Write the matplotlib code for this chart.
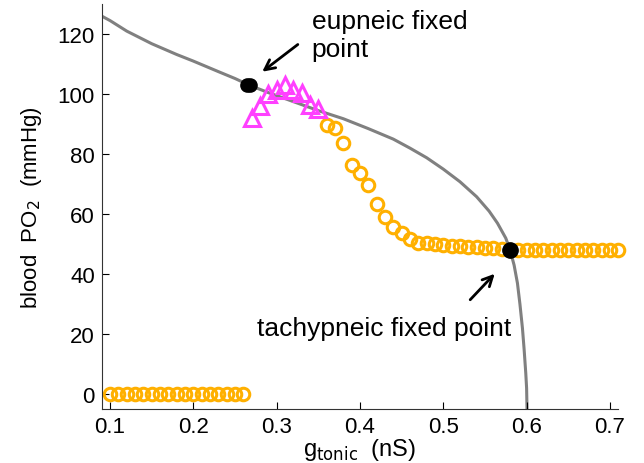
import numpy as np
import matplotlib
matplotlib.use("Agg")
import matplotlib.pyplot as plt

plt.rcParams["font.family"] = ["Liberation Sans", "DejaVu Sans"]

# nullcline (gray curve)
curve_g = [0.09, 0.10, 0.12, 0.15, 0.18, 0.20, 0.23, 0.25, 0.267, 0.29,
           0.32, 0.35, 0.38, 0.41, 0.44, 0.46, 0.48, 0.50, 0.52, 0.54,
           0.555, 0.565, 0.575, 0.58, 0.585, 0.589, 0.592, 0.595, 0.597,
           0.599, 0.600, 0.6005]
curve_po2 = [126, 124.5, 121, 116.8, 113.2, 111, 107.5, 105.2, 103, 100.5,
             97.5, 94.5, 91.8, 88.5, 85, 82, 78.8, 75, 70.8, 65.8,
             61, 57, 52, 48.2, 43, 37, 30, 22, 15,
             7, 2, -5]

# simulated outcomes
zero_g = [0.10, 0.11, 0.12, 0.13, 0.14, 0.15, 0.16, 0.17, 0.18, 0.19,
          0.20, 0.21, 0.22, 0.23, 0.24, 0.25, 0.26]
zero_po2 = [0] * len(zero_g)

tri_g = [0.27, 0.28, 0.29, 0.30, 0.31, 0.32, 0.33, 0.34, 0.35]
tri_po2 = [92, 96, 100, 101.5, 103, 101.5, 100.5, 96.3, 95.2]

tach_g = [0.36, 0.37, 0.38, 0.39, 0.40, 0.41, 0.42, 0.43, 0.44, 0.45,
          0.46, 0.47, 0.48, 0.49, 0.50, 0.51, 0.52, 0.53, 0.54, 0.55,
          0.56, 0.57, 0.58, 0.59, 0.60, 0.61, 0.62, 0.63, 0.64, 0.65,
          0.66, 0.67, 0.68, 0.69, 0.70, 0.71]
tach_po2 = [89.7, 88.6, 83.6, 76.3, 73.6, 69.7, 63.3, 59.0, 55.6, 53.8,
            51.6, 50.5, 50.4, 50.0, 49.7, 49.5, 49.3, 49.1, 49.0, 48.8,
            48.6, 48.4, 48.2, 48.2, 48.2, 48.2, 48.2, 48.2, 48.2, 48.2,
            48.2, 48.2, 48.2, 48.2, 48.2, 48.2]

# fixed points
eup_g = [0.264, 0.268]
eup_po2 = [103.2, 102.9]
tachy_fp_g = [0.58]
tachy_fp_po2 = [48.2]

fig = plt.figure(figsize=(6.44, 4.64), dpi=100)
ax = fig.add_axes([0.158, 0.116, 0.802, 0.873])

ax.plot(curve_g, curve_po2, color="#808080", lw=2.2, zorder=1)
ax.plot(zero_g, zero_po2, "o", ms=9, mfc="none", mec="#ffb000", mew=2.2,
        zorder=2, clip_on=False)
ax.plot(tach_g, tach_po2, "o", ms=9, mfc="none", mec="#ffb000", mew=2.2,
        zorder=2, clip_on=False)
ax.plot(tri_g, tri_po2, "^", ms=11, mfc="none", mec="#ff40ff", mew=2.2,
        zorder=3)
ax.plot(eup_g, eup_po2, "o", ms=9.5, color="black", zorder=4)
ax.plot(tachy_fp_g, tachy_fp_po2, "o", ms=11, color="black", zorder=4)

ax.annotate("", xy=(0.280, 106.9), xytext=(0.328, 117.1),
            arrowprops=dict(arrowstyle="->", color="black", lw=2,
                            mutation_scale=18))
ax.annotate("", xy=(0.564, 40.8), xytext=(0.530, 30.8),
            arrowprops=dict(arrowstyle="->", color="black", lw=2,
                            mutation_scale=18))
ax.text(0.342, 128.5, "eupneic fixed\npoint", fontsize=19, va="top",
        ha="left", linespacing=1.25)
ax.text(0.276, 19.7, "tachypneic fixed point", fontsize=19, va="baseline",
        ha="left")

ax.set_xlim(0.09, 0.71)
ax.set_ylim(-5, 130)
ax.set_xticks([0.1, 0.2, 0.3, 0.4, 0.5, 0.6, 0.7])
ax.set_yticks([0, 20, 40, 60, 80, 100, 120])
ax.tick_params(direction="in", length=5, labelsize=16, pad=5)
ax.spines["top"].set_visible(False)
ax.spines["right"].set_visible(False)
for s in ["left", "bottom"]:
    ax.spines[s].set_color("#333333")

ax.set_xlabel(r"g$_{\rm tonic}$  (nS)", fontsize=17, labelpad=-1)
ax.set_ylabel(r"blood  PO$_2$  (mmHg)", fontsize=16, labelpad=10)

fig.savefig("out.png", dpi=100)
